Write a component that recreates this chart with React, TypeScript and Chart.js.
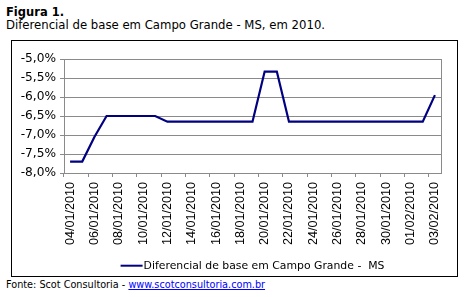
import React, { useEffect, useRef } from "react";
import { Chart, registerables } from "chart.js";

Chart.register(...registerables);

const categories: string[] = [
  "04/01/2010", "05/01/2010", "06/01/2010", "07/01/2010", "08/01/2010", "09/01/2010",
  "10/01/2010", "11/01/2010", "12/01/2010", "13/01/2010", "14/01/2010", "15/01/2010",
  "16/01/2010", "17/01/2010", "18/01/2010", "19/01/2010", "20/01/2010", "21/01/2010",
  "22/01/2010", "23/01/2010", "24/01/2010", "25/01/2010", "26/01/2010", "27/01/2010",
  "28/01/2010", "29/01/2010", "30/01/2010", "31/01/2010", "01/02/2010", "02/02/2010",
  "03/02/2010",
];

const seriesName = "Diferencial de base em Campo Grande -  MS";
const seriesValues: number[] = [
  -7.7, -7.7, -7.05, -6.5, -6.5, -6.5, -6.5, -6.5, -6.65, -6.65, -6.65, -6.65,
  -6.65, -6.65, -6.65, -6.65, -5.33, -5.33, -6.65, -6.65, -6.65, -6.65, -6.65, -6.65,
  -6.65, -6.65, -6.65, -6.65, -6.65, -6.65, -5.95,
];

const yMin = -8;
const yMax = -5;
const yStep = 0.5;

const GRID = "#8a8a8a";
const LINE = "#000080";

const frameAndLegend = {
  id: "frameAndLegend",
  afterDraw(chart: any) {
    const { ctx, chartArea } = chart;
    ctx.save();
    ctx.strokeStyle = GRID;
    ctx.lineWidth = 1;
    ctx.beginPath();
    ctx.moveTo(Math.round(chartArea.right) + 0.5, chartArea.top);
    ctx.lineTo(Math.round(chartArea.right) + 0.5, chartArea.bottom);
    ctx.stroke();

    const ds = chart.data.datasets[0];
    ctx.font = "10.85px 'DejaVu Sans'";
    const tw = ctx.measureText(ds.label).width;
    const sw = 22;
    const gap = 1;
    const total = sw + gap + tw;
    const cx = (chartArea.left + chartArea.right) / 2;
    const x0 = cx - total / 2;
    const y = chartArea.bottom + 92.7;
    ctx.strokeStyle = ds.borderColor;
    ctx.lineWidth = 2;
    ctx.beginPath();
    ctx.moveTo(x0, y);
    ctx.lineTo(x0 + sw, y);
    ctx.stroke();
    ctx.fillStyle = "#000";
    ctx.textBaseline = "middle";
    ctx.textAlign = "left";
    ctx.fillText(ds.label, x0 + sw + gap, y);
    ctx.restore();
  },
};

export default function App() {
  const ref = useRef<HTMLCanvasElement | null>(null);

  useEffect(() => {
    if (!ref.current) return;
    const chart = new Chart(ref.current, {
      type: "line",
      data: {
        labels: categories,
        datasets: [
          {
            label: seriesName,
            data: seriesValues,
            borderColor: LINE,
            backgroundColor: LINE,
            borderWidth: 2.2,
            pointRadius: 0,
            tension: 0,
          },
        ],
      },
      options: {
        animation: false,
        responsive: false,
        events: [],
        layout: { padding: { top: 18, right: 16, bottom: 0, left: 0 } },
        plugins: {
          legend: { display: false },
          tooltip: { enabled: false },
        },
        scales: {
          x: {
            type: "category",
            offset: true,
            afterFit: (s: any) => {
              s.height = 103;
            },
            grid: {
              offset: true,
              drawOnChartArea: false,
              drawTicks: true,
              tickLength: 4,
              tickColor: (c: any) => (c.index % 2 === 0 ? GRID : "rgba(0,0,0,0)"),
            },
            border: { display: true, color: GRID, width: 1 },
            ticks: {
              autoSkip: false,
              maxRotation: 90,
              minRotation: 90,
              padding: 5,
              color: "#000",
              font: { family: "'Liberation Sans'", size: 12.6 },
              callback: (_v: any, i: number) => (i % 2 === 0 ? categories[i] : ""),
            },
          },
          y: {
            min: yMin,
            max: yMax,
            afterFit: (s: any) => {
              s.width = 52;
            },
            grid: {
              color: GRID,
              tickColor: GRID,
              tickLength: 4,
              drawTicks: true,
            },
            border: { display: true, color: GRID, width: 1 },
            ticks: {
              stepSize: yStep,
              padding: 4,
              color: "#000",
              font: { family: "'DejaVu Sans'", size: 12.2 },
              callback: (v: any) => Number(v).toFixed(1).replace(".", ",") + "%",
            },
          },
        },
      },
      plugins: [frameAndLegend],
    });
    return () => chart.destroy();
  }, []);

  return (
    <div
      style={{
        position: "absolute",
        left: 0,
        top: 0,
        width: 468,
        height: 297,
        background: "#fff",
        fontFamily: "'DejaVu Sans'",
        color: "#000",
      }}
    >
      <div
        style={{
          position: "absolute",
          left: 6,
          top: 7,
          fontSize: 11.5,
          lineHeight: "11.5px",
          fontWeight: "bold",
          whiteSpace: "nowrap",
        }}
      >
        Figura 1.
      </div>
      <div
        style={{
          position: "absolute",
          left: 6,
          top: 20,
          fontSize: 11.7,
          lineHeight: "11.7px",
          whiteSpace: "nowrap",
        }}
      >
        Diferencial de base em Campo Grande - MS, em 2010.
      </div>
      <div
        style={{
          position: "absolute",
          left: 11,
          top: 40,
          width: 445,
          height: 235,
          border: "1px solid #000",
        }}
      >
        <canvas ref={ref} width={445} height={235} style={{ display: "block" }} />
      </div>
      <div
        style={{
          position: "absolute",
          left: 6,
          top: 280,
          fontSize: 9.7,
          lineHeight: "9.7px",
          whiteSpace: "nowrap",
        }}
      >
        Fonte: Scot Consultoria -{" "}
        <a href="#" style={{ color: "#0000ff", textDecoration: "underline" }}>
          www.scotconsultoria.com.br
        </a>
      </div>
    </div>
  );
}
